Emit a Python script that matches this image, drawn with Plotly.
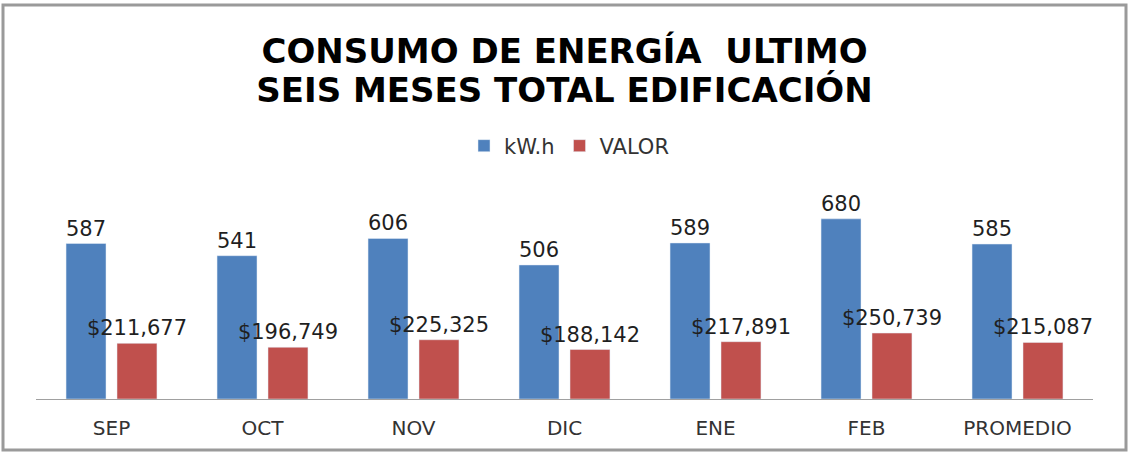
import plotly.graph_objects as go

categories = ["SEP", "OCT", "NOV", "DIC", "ENE", "FEB", "PROMEDIO"]
kwh = [587, 541, 606, 506, 589, 680, 585]
valor = [211677, 196749, 225325, 188142, 217891, 250739, 215087]
series_names = ["kW.h", "VALOR"]
title_lines = ["CONSUMO DE ENERGÍA  ULTIMO", "SEIS MESES TOTAL EDIFICACIÓN"]

BLUE = "#4F81BD"
RED = "#C0504D"
LABEL_FONT = dict(family="DejaVu Sans", size=21, color="#1f1f1f", shadow="none")

fig = go.Figure()
fig.add_trace(go.Bar(
    x=categories, y=kwh, name=series_names[0], marker_color=BLUE,
    offsetgroup="1", yaxis="y",
    texttemplate="%{y}", textposition="outside", textfont=LABEL_FONT,
    constraintext="none", cliponaxis=False,
))
fig.add_trace(go.Bar(
    x=categories, y=valor, name=series_names[1], marker_color=RED,
    offsetgroup="2", yaxis="y2",
    texttemplate="$%{y:,}", textposition="outside", textfont=LABEL_FONT,
    constraintext="none", cliponaxis=False,
))

L, R, T, B = 36, 45, 190, 58
PH = 457 - T - B
PW = 1138 - L - R

def px(x):
    return (x - L) / PW

def py(y):
    return (457 - B - y) / PH

title_html = "<br>".join(f"<span style='font-size:34px'>{t}</span>" for t in title_lines)

fig.update_layout(
    width=1138, height=457,
    margin=dict(l=L, r=R, t=T, b=B),
    paper_bgcolor="white", plot_bgcolor="white",
    barmode="group", bargap=0.325, bargroupgap=0.216,
    title=dict(
        text=title_html,
        font=dict(family="DejaVu Sans", size=30, color="black", weight="bold", shadow="none"),
        x=0.5, xref="paper", xanchor="center",
        y=1 - 63 / 457, yref="container", yanchor="middle",
    ),
    legend=dict(
        orientation="h", x=px(569), xanchor="center", y=py(146), yanchor="middle",
        font=dict(family="DejaVu Sans", size=21, color="#333333"),
        bgcolor="rgba(0,0,0,0)", traceorder="normal",
    ),
    xaxis=dict(
        showline=True, linecolor="#A0A0A0", linewidth=1,
        ticks="outside", ticklen=11, tickcolor="rgba(0,0,0,0)",
        tickfont=dict(family="DejaVu Sans", size=20, color="#333333"),
        showgrid=False, zeroline=False,
    ),
    yaxis=dict(range=[0, 789], visible=False, showgrid=False, zeroline=False),
    yaxis2=dict(range=[0, 794700], visible=False, showgrid=False, zeroline=False,
                overlaying="y", side="right"),
    shapes=[dict(
        type="rect", xref="paper", yref="paper",
        x0=px(3), x1=px(1126), y0=py(450), y1=py(5),
        line=dict(color="#9A9A9A", width=3), fillcolor="rgba(0,0,0,0)",
        layer="below",
    )],
    showlegend=True,
)

fig.write_html("out.html")
